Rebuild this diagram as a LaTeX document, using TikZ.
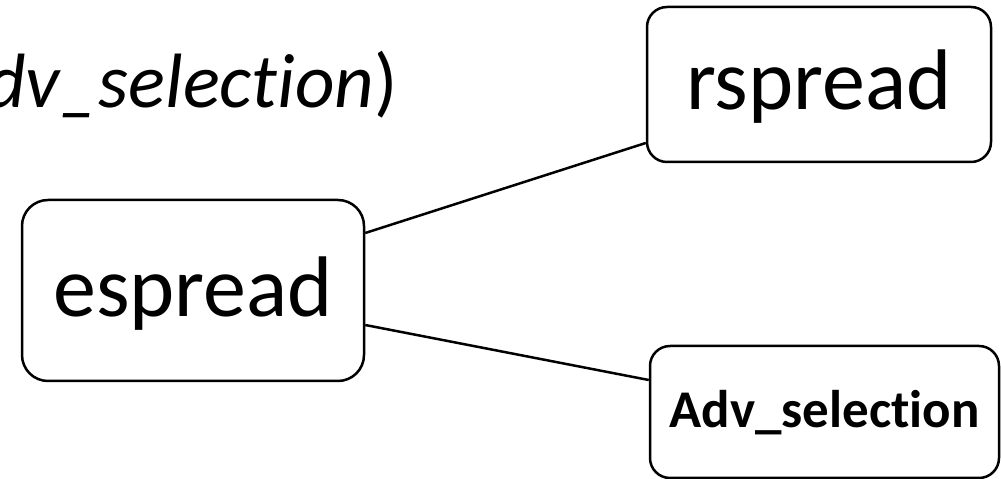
\documentclass[tikz,border=0pt]{standalone}
\usepackage{fontspec}
\setmainfont{Carlito}[Ligatures=NoCommon]
\begin{document}
\begin{tikzpicture}[x=1pt,y=1pt,
  box/.style={draw=black, line width=2.5pt, fill=white, inner sep=0pt, text depth=0pt},
  link/.style={draw=black, line width=2.5pt}]
\useasboundingbox (0,0) rectangle (1001,479);
% label fragment at the top left
\node[anchor=base east, inner sep=0pt, font=\fontsize{77}{90}\selectfont] (lbl) at (398,371)
  {{\itshape dv\_selection})};
% boxes
\node[box, rounded corners=26pt, minimum width=342pt, minimum height=181pt,
      text height=53pt, font=\fontsize{86}{100}\selectfont] (e) at (193,188.5) {espread};
\node[box, rounded corners=20pt, minimum width=344pt, minimum height=155pt,
      text height=51pt, font=\fontsize{86}{100}\selectfont] (r) at (819,394.5) {rspread};
\node[box, rounded corners=20pt, minimum width=349pt, minimum height=132pt,
      text height=32pt, font=\bfseries\fontsize{53}{62}\selectfont] (a) at (824.5,67) {Adv\_selection};
% connectors
\draw[link] ([yshift=57.5pt]e.east) -- ([yshift=-58.5pt]r.west);
\draw[link] ([yshift=-34.5pt]e.east) -- ([yshift=32pt]a.west);
\end{tikzpicture}
\end{document}
